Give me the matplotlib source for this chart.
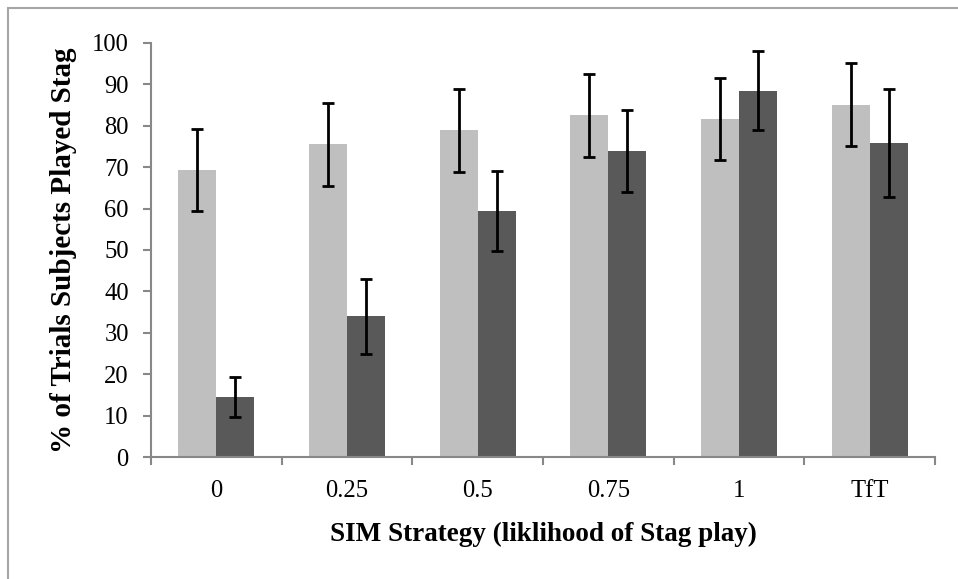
import matplotlib
matplotlib.use("Agg")
import matplotlib.pyplot as plt
import numpy as np
from matplotlib.patches import Rectangle

categories = ["0", "0.25", "0.5", "0.75", "1", "TfT"]
light_vals = [69.3, 75.5, 78.9, 82.5, 81.7, 85.0]
light_err = [10.0, 10.0, 10.0, 10.0, 9.9, 10.0]
dark_vals = [14.5, 34.0, 59.4, 73.9, 88.4, 75.8]
dark_err = [4.8, 9.0, 9.6, 9.8, 9.5, 13.0]

plt.rcParams['font.family'] = ['Liberation Serif', 'DejaVu Serif']

W, H = 958, 579
fig = plt.figure(figsize=(W / 100, H / 100), dpi=100)

# outer frame
fig.patches.append(Rectangle((8 / W, -0.05), 1.1, (579 - 8) / H + 0.05,
                             transform=fig.transFigure, fill=False,
                             edgecolor="#A6A6A6", linewidth=1.5))

left, right, top, bottom = 151, 935, 42.7, 457.3
ax = fig.add_axes([left / W, (H - bottom) / H, (right - left) / W, (bottom - top) / H])

x = np.arange(len(categories))
bw = 0.29
ekw = dict(ecolor="black", elinewidth=2, capsize=4.5, capthick=2)
ax.bar(x - bw / 2, light_vals, bw, color="#BFBFBF", yerr=light_err, error_kw=ekw, zorder=2)
ax.bar(x + bw / 2, dark_vals, bw, color="#595959", yerr=dark_err, error_kw=ekw, zorder=2)

ax.set_xlim(-0.5, len(categories) - 0.5)
ax.set_ylim(0, 100)
ax.set_yticks(np.arange(0, 101, 10))
ax.set_xticks(np.arange(-0.5, len(categories), 1.0))
ax.set_xticklabels([])
ax.set_xticks(x, minor=True)
ax.set_xticklabels(categories, minor=True)

for s in ["top", "right"]:
    ax.spines[s].set_visible(False)
for s in ["left", "bottom"]:
    ax.spines[s].set_color("#888888")
    ax.spines[s].set_linewidth(1.5)

ax.tick_params(axis="y", which="major", length=6, width=1.5, color="#888888",
               labelsize=17.7, pad=10, direction="out")
ax.tick_params(axis="x", which="major", length=6, width=1.5, color="#888888", direction="out")
ax.tick_params(axis="x", which="minor", length=0, labelsize=17.7, pad=16)

ax.set_xlabel("SIM Strategy (liklihood of Stag play)", fontsize=19.5, fontweight="bold", labelpad=15)
ax.set_ylabel("% of Trials Subjects Played Stag", fontsize=21, fontweight="bold", labelpad=11)

fig.savefig("out.png", dpi=100)
